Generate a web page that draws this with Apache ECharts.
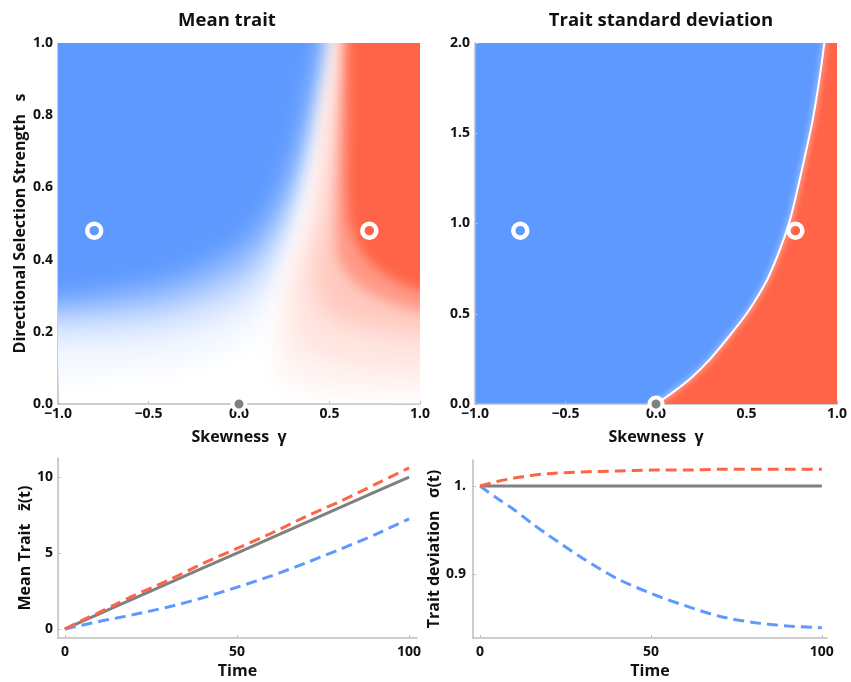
<!DOCTYPE html>
<html>
<head>
<meta charset="utf-8">
<title>Mean trait / Trait standard deviation</title>
<script src="https://cdn.jsdelivr.net/npm/echarts@6/dist/echarts.min.js"></script>
<style>
  html, body { margin: 0; padding: 0; background: #fff; }
  #chart { width: 851px; height: 682px; }
</style>
</head>
<body>
<div id="chart"></div>
<script>
// mean trait panel: contour lines [gamma, s], light -> full colour
const blueLevels = [0.07, 0.25, 0.5, 0.75, 1.0];
const blue07 = [[-1.05, 0.07], [-0.5, 0.09], [-0.25, 0.11], [0, 0.16], [0.1, 0.2], [0.2, 0.29], [0.3, 0.44], [0.4, 0.66], [0.47, 0.84], [0.52, 1.0], [0.535, 1.05]];
const blue25 = [[-1.05, 0.17], [-0.5, 0.185], [-0.25, 0.21], [0, 0.26], [0.1, 0.3], [0.2, 0.38], [0.3, 0.52], [0.4, 0.72], [0.46, 0.88], [0.5, 1.0], [0.51, 1.05]];
const blue50 = [[-1.05, 0.235], [-0.5, 0.25], [-0.25, 0.28], [0, 0.33], [0.1, 0.38], [0.2, 0.46], [0.3, 0.6], [0.38, 0.76], [0.44, 0.9], [0.48, 1.0], [0.49, 1.05]];
const blue75 = [[-1.05, 0.27], [-0.5, 0.295], [-0.25, 0.33], [0, 0.39], [0.1, 0.44], [0.2, 0.52], [0.3, 0.66], [0.37, 0.8], [0.42, 0.92], [0.46, 1.05]];
const blue100 = [[-1.05, 0.30], [-0.5, 0.34], [-0.25, 0.38], [0, 0.45], [0.1, 0.5], [0.2, 0.58], [0.3, 0.71], [0.36, 0.83], [0.41, 0.95], [0.44, 1.05]];

const redLevels = [0.07, 0.17, 0.35, 0.65, 1.0];
const red07 = [[0.555, 1.05], [0.48, 0.8], [0.39, 0.55], [0.33, 0.45], [0.28, 0.38], [0.24, 0.3], [0.2, 0.2], [0.21, 0.1], [0.3, 0.05], [0.6, 0.03], [1.05, 0.02]];
const red17 = [[0.565, 1.05], [0.5, 0.8], [0.43, 0.55], [0.37, 0.45], [0.32, 0.38], [0.29, 0.3], [0.29, 0.22], [0.36, 0.15], [0.6, 0.11], [1.05, 0.09]];
const red35 = [[0.575, 1.05], [0.53, 0.8], [0.48, 0.55], [0.44, 0.45], [0.42, 0.38], [0.43, 0.3], [0.52, 0.24], [0.75, 0.21], [1.05, 0.19]];
const red65 = [[0.585, 1.05], [0.56, 0.8], [0.54, 0.55], [0.54, 0.45], [0.56, 0.39], [0.65, 0.33], [0.75, 0.3], [0.9, 0.27], [1.05, 0.255]];
const red100 = [[0.60, 1.05], [0.60, 0.8], [0.6, 0.55], [0.63, 0.47], [0.71, 0.4], [0.82, 0.355], [0.92, 0.33], [1.05, 0.31]];

// trait sd panel: boundary between the two regions [gamma, s]
const sdBoundary = [[0, 0], [0.1, 0.07], [0.2, 0.15], [0.3, 0.25], [0.4, 0.37], [0.5, 0.5], [0.57, 0.61], [0.62, 0.7], [0.69, 0.87], [0.74, 1.02], [0.775, 1.16], [0.82, 1.36], [0.865, 1.57], [0.9, 1.78], [0.93, 2.0], [1.0, 2.6]];

// markers
const meanRings = [[-0.8, 0.48], [0.72, 0.48]];
const sdRings = [[-0.75, 0.96], [0.77, 0.96]];
const neutralPoint = [[0, 0]];

// time series
const timePoints = [0, 5, 10, 15, 20, 30, 40, 50, 60, 70, 80, 90, 100];
const meanNeutral = [0, 0.5, 1, 1.5, 2, 3, 4, 5, 6, 7, 8, 9, 10];
const meanPositive = [0, 0.57, 1.1, 1.65, 2.2, 3.2, 4.3, 5.3, 6.3, 7.4, 8.4, 9.5, 10.6];
const meanNegative = [0, 0.25, 0.5, 0.72, 0.95, 1.45, 2.05, 2.75, 3.5, 4.35, 5.25, 6.2, 7.25];
const sdNeutral = [1, 1, 1, 1, 1, 1, 1, 1, 1, 1, 1, 1, 1];
const sdPositive = [1, 1.005, 1.009, 1.012, 1.014, 1.016, 1.017, 1.018, 1.018, 1.019, 1.019, 1.019, 1.019];
const sdNegative = [1, 0.986, 0.973, 0.958, 0.944, 0.918, 0.895, 0.878, 0.864, 0.852, 0.845, 0.841, 0.839];

const BLUE = [94, 153, 255];
const RED = [255, 100, 72];
const GREY = '#808080';
const FONT = 'Open Sans';
const OFF = 2500; // polygons are drawn off-canvas, only their blurred shadow lands on the plot

function tint(base, t) {
    const c = base.map(v => Math.round(255 - t * (255 - v)));
    return 'rgb(' + c.join(',') + ')';
}

function pairs(xs, ys) {
    return xs.map((x, i) => [x, ys[i]]);
}

function minusFmt(v) {
    return v.toFixed(1).replace('-', '\u2212');
}

// one soft contour region, closed round the outside of the plot and clipped
function contourSeries(points, side, color, blur) {
    return {
        type: 'custom',
        xAxisIndex: 0, yAxisIndex: 0,
        clip: true, silent: true,
        data: points,
        renderItem: function (params, api) {
            if (params.dataIndex !== 0) return null;
            const first = points[0], last = points[points.length - 1];
            const outer = side === 'blue'
                ? [[last[0], 1.6], [-1.6, 1.6], [-1.6, first[1]]]
                : [[1.6, last[1]], [1.6, 1.6], [first[0], 1.6]];
            const pts = points.concat(outer).map(p => api.coord(p));
            return {
                type: 'polygon',
                x: OFF,
                shape: {points: pts, smooth: 0.3},
                style: {fill: color, shadowBlur: blur, shadowColor: color, shadowOffsetX: -OFF}
            };
        }
    };
}

const titleStyle = {color: '#111', fontFamily: FONT, fontWeight: 'bold', fontSize: 18.5};
const labelStyle = {color: '#111', fontFamily: FONT, fontWeight: 'bold', fontSize: 14};
const nameStyle = {color: '#111', fontFamily: FONT, fontWeight: 'bold', fontSize: 16};
const axisLine = {show: true, onZero: false, lineStyle: {color: '#bdbdbd', width: 1.5}};
const axisTick = {show: true, inside: true, length: 3, lineStyle: {color: '#bdbdbd'}};

const series = [];
[blue07, blue25, blue50, blue75, blue100].forEach((c, i) => series.push(contourSeries(c, 'blue', tint(BLUE, blueLevels[i]), 22)));
[red07, red17, red35, red65, red100].forEach((c, i) => series.push(contourSeries(c, 'red', tint(RED, redLevels[i]), i > 2 ? 12 : 22)));

const ringStyle = {color: 'rgba(0,0,0,0)', borderColor: '#fff', borderWidth: 4.5, opacity: 1};
const dotStyle = {color: GREY, borderColor: '#fff', borderWidth: 4, opacity: 1};

series.push(
    {type: 'scatter', xAxisIndex: 0, yAxisIndex: 0, clip: false, silent: true, z: 5,
        symbolSize: 14, itemStyle: ringStyle, data: meanRings},
    {type: 'scatter', xAxisIndex: 0, yAxisIndex: 0, clip: false, silent: true, z: 5,
        symbolSize: 13, itemStyle: dotStyle, data: neutralPoint},
    // sd panel: red region under the boundary, white edge on top
    {type: 'line', xAxisIndex: 1, yAxisIndex: 1, clip: true, silent: true,
        data: sdBoundary, smooth: 0.3, symbol: 'none',
        lineStyle: {width: 0}, areaStyle: {color: tint(RED, 1), opacity: 1, origin: 'start'}},
    {type: 'line', xAxisIndex: 1, yAxisIndex: 1, clip: true, silent: true,
        data: sdBoundary, smooth: 0.3, symbol: 'none',
        lineStyle: {color: '#fff', width: 2, shadowBlur: 6, shadowColor: '#fff'}},
    {type: 'scatter', xAxisIndex: 1, yAxisIndex: 1, clip: false, silent: true, z: 5,
        symbolSize: 14, itemStyle: ringStyle, data: sdRings},
    {type: 'scatter', xAxisIndex: 1, yAxisIndex: 1, clip: false, silent: true, z: 5,
        symbolSize: 13, itemStyle: dotStyle, data: neutralPoint}
);

const dash = [11, 6];
series.push(
    {type: 'line', xAxisIndex: 2, yAxisIndex: 2, data: pairs(timePoints, meanNeutral), symbol: 'none',
        lineStyle: {color: GREY, width: 3}},
    {type: 'line', xAxisIndex: 2, yAxisIndex: 2, data: pairs(timePoints, meanNegative), symbol: 'none', smooth: 0.3,
        lineStyle: {color: tint(BLUE, 1), width: 3, type: dash}},
    {type: 'line', xAxisIndex: 2, yAxisIndex: 2, data: pairs(timePoints, meanPositive), symbol: 'none', smooth: 0.3,
        lineStyle: {color: tint(RED, 1), width: 3, type: dash}},
    {type: 'line', xAxisIndex: 3, yAxisIndex: 3, data: pairs(timePoints, sdNeutral), symbol: 'none',
        lineStyle: {color: GREY, width: 3}},
    {type: 'line', xAxisIndex: 3, yAxisIndex: 3, data: pairs(timePoints, sdNegative), symbol: 'none', smooth: 0.3,
        lineStyle: {color: tint(BLUE, 1), width: 3, type: dash}},
    {type: 'line', xAxisIndex: 3, yAxisIndex: 3, data: pairs(timePoints, sdPositive), symbol: 'none', smooth: 0.3,
        lineStyle: {color: tint(RED, 1), width: 3, type: dash}}
);

const option = {
    animation: false,
    backgroundColor: '#fff',
    title: [
        {text: 'Mean trait', left: 222, top: 6, textAlign: 'center', textStyle: titleStyle},
        {text: 'Trait standard deviation', left: 656, top: 6, textAlign: 'center', textStyle: titleStyle}
    ],
    grid: [
        {left: 58, top: 43, width: 362, height: 361, show: true, backgroundColor: '#fff', borderWidth: 0},
        {left: 475, top: 43, width: 362, height: 361, show: true, backgroundColor: tint(BLUE, 1), borderWidth: 0},
        {left: 58, top: 458, width: 359, height: 180},
        {left: 473, top: 460, width: 354, height: 178}
    ],
    xAxis: [
        {gridIndex: 0, type: 'value', min: -1, max: 1, interval: 0.5,
            name: 'Skewness  \u03b3', nameLocation: 'middle', nameGap: 25, nameTextStyle: nameStyle,
            axisLine: axisLine, axisTick: axisTick, splitLine: {show: false},
            axisLabel: Object.assign({margin: 3, formatter: minusFmt}, labelStyle)},
        {gridIndex: 1, type: 'value', min: -1, max: 1, interval: 0.5,
            name: 'Skewness  \u03b3', nameLocation: 'middle', nameGap: 25, nameTextStyle: nameStyle,
            axisLine: axisLine, axisTick: axisTick, splitLine: {show: false},
            axisLabel: Object.assign({margin: 3, formatter: minusFmt}, labelStyle)},
        {gridIndex: 2, type: 'value', min: -2, max: 102.3,
            name: 'Time', nameLocation: 'middle', nameGap: 25, nameTextStyle: nameStyle,
            axisLine: axisLine, splitLine: {show: false},
            axisTick: Object.assign({customValues: [0, 50, 100]}, axisTick),
            axisLabel: Object.assign({margin: 7, customValues: [0, 50, 100]}, labelStyle)},
        {gridIndex: 3, type: 'value', min: -2.05, max: 101.5,
            name: 'Time', nameLocation: 'middle', nameGap: 25, nameTextStyle: nameStyle,
            axisLine: axisLine, splitLine: {show: false},
            axisTick: Object.assign({customValues: [0, 50, 100]}, axisTick),
            axisLabel: Object.assign({margin: 7, customValues: [0, 50, 100]}, labelStyle)}
    ],
    yAxis: [
        {gridIndex: 0, type: 'value', min: 0, max: 1, interval: 0.2,
            name: 'Directional Selection Strength   s', nameLocation: 'middle', nameGap: 30, nameTextStyle: nameStyle,
            axisLine: axisLine, axisTick: axisTick, splitLine: {show: false},
            axisLabel: Object.assign({margin: 5, formatter: minusFmt}, labelStyle)},
        {gridIndex: 1, type: 'value', min: 0, max: 2, interval: 0.5,
            axisLine: axisLine, axisTick: axisTick, splitLine: {show: false},
            axisLabel: Object.assign({margin: 5, formatter: minusFmt}, labelStyle)},
        {gridIndex: 2, type: 'value', min: -0.59, max: 11.25,
            name: 'Mean Trait   z\u0304(t)', nameLocation: 'middle', nameGap: 16, nameTextStyle: nameStyle,
            axisLine: axisLine, splitLine: {show: false},
            axisTick: Object.assign({customValues: [0, 5, 10]}, axisTick),
            axisLabel: Object.assign({margin: 5, customValues: [0, 5, 10]}, labelStyle)},
        {gridIndex: 3, type: 'value', min: 0.8273, max: 1.0295,
            name: 'Trait deviation   \u03c3(t)', nameLocation: 'middle', nameGap: 31, nameTextStyle: nameStyle,
            axisLine: axisLine, splitLine: {show: false},
            axisTick: Object.assign({customValues: [0.9, 1.0]}, axisTick),
            axisLabel: Object.assign({margin: 7, customValues: [0.9, 1.0],
                formatter: v => (Math.abs(v - 1) < 1e-9 ? '1.' : v.toFixed(1))}, labelStyle)}
    ],
    series: series
};

const myChart = echarts.init(document.getElementById('chart'), null, {renderer: 'canvas'});
myChart.setOption(option);
</script>
</body>
</html>
